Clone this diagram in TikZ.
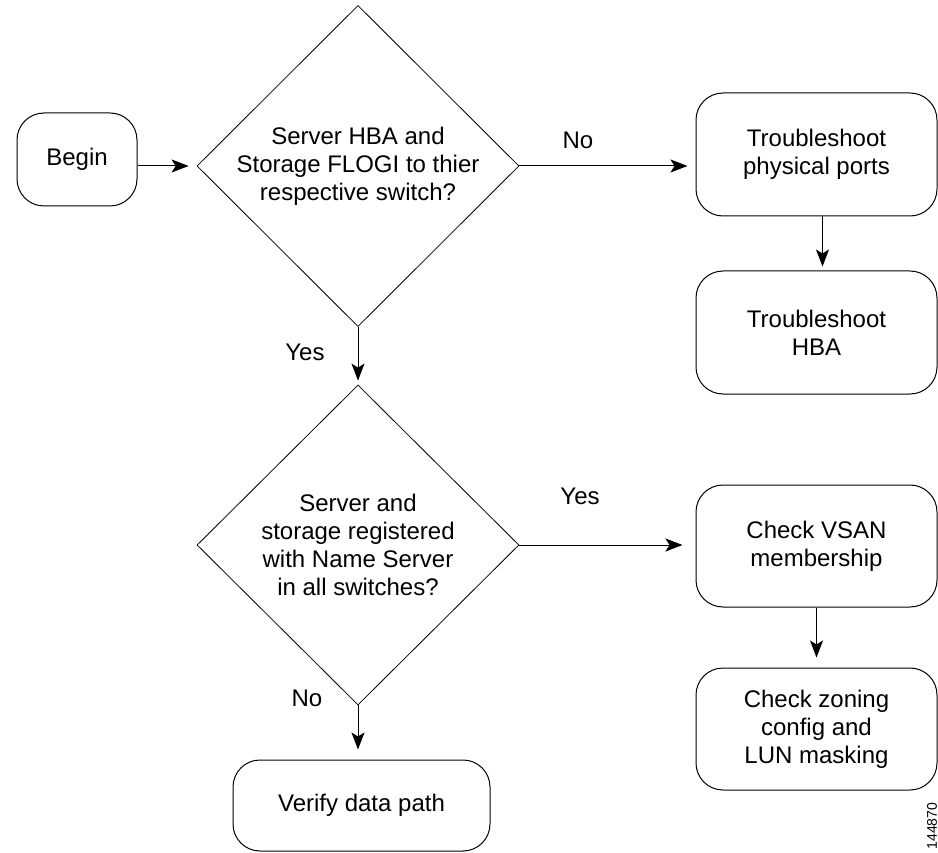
\documentclass[tikz,border=0pt]{standalone}
\usepackage{fontspec}
\setmainfont{Liberation Sans}
\usetikzlibrary{shapes.geometric,arrows.meta}
\begin{document}
\begin{tikzpicture}[x=1pt,y=-1pt,
  font=\fontsize{24}{28}\selectfont,
  box/.style={draw, line width=1pt, rounded corners=27pt, minimum width=241pt, minimum height=123pt, align=center, inner sep=0pt},
  dec/.style={draw, diamond, line width=0.8pt, minimum width=322pt, minimum height=320pt, inner sep=0pt, align=center},
  arr/.style={draw, line width=1pt, -{Stealth[length=17pt,width=13pt,inset=4pt]}},
  lbl/.style={inner sep=0pt}]
\useasboundingbox (0,0) rectangle (938,853);
\node[box, minimum width=120pt, minimum height=93pt] (begin) at (77,159.5) {Begin};
\node[dec] (d1) at (358,166) {Server HBA and\\Storage FLOGI to thier\\respective switch?};
\node[box] (tpp) at (816.5,154.5) {Troubleshoot\\physical ports};
\node[box] (hba) at (816.5,332.5) {Troubleshoot\\HBA};
\node[dec] (d2) at (358,545) {Server and\\storage registered\\with Name Server\\in all switches?};
\node[box, minimum height=122pt] (vsan) at (816.5,546) {Check VSAN\\membership};
\node[box, minimum height=122pt] (zone) at (816.5,729) {Check zoning\\config and\\LUN masking};
\node[box, minimum width=257pt, minimum height=91pt] (verify) at (361.5,805.5) {Verify data path};

\draw[arr, shorten >=8pt] (begin.east |- d1.west) -- (d1.west);
\draw[arr, shorten >=8pt] (d1.east) -- (d1.east -| tpp.west);
\draw[arr, shorten >=4pt] ([xshift=6pt]tpp.south) -- ([xshift=6pt]hba.north);
\draw[arr, shorten >=4pt] (d1.south) -- (d2.north);
\draw[arr, shorten >=13pt] (d2.east) -- (d2.east -| vsan.west);
\draw[arr, shorten >=10pt] (vsan.south) -- (zone.north);
\draw[arr, shorten >=10pt] (d2.south) -- (d2.south |- verify.north);

\node[lbl] (no1) at (578,140) {No};
\node[lbl] (yes1) at (305,352) {Yes};
\node[lbl] (yes2) at (580,496) {Yes};
\node[lbl] (no2) at (307,698) {No};
\node[lbl, rotate=90, font=\fontsize{14}{16}\selectfont] (id) at (932,826) {144870};
\end{tikzpicture}
\end{document}
